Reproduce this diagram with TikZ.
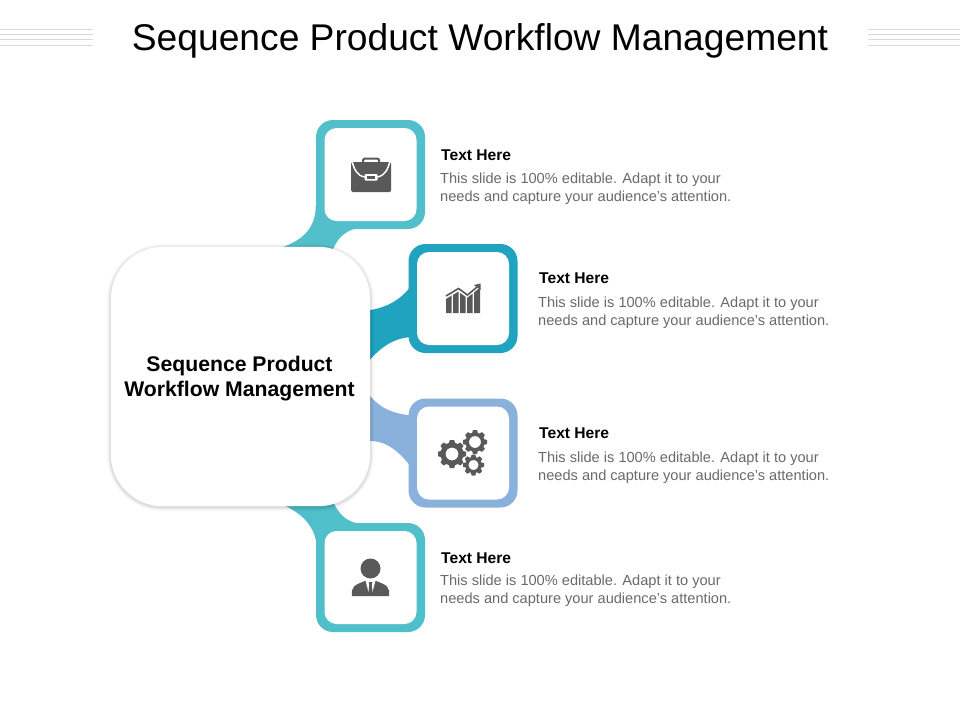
\documentclass[tikz,border=0pt]{standalone}
\usepackage{fontspec}
\setmainfont{Liberation Sans}
\usetikzlibrary{calc}
\definecolor{tealA}{HTML}{53BFCA}
\definecolor{tealB}{HTML}{1FA3BE}
\definecolor{blueC}{HTML}{8AB1DB}
\definecolor{tealD}{HTML}{4FBFCA}
\definecolor{icongray}{HTML}{595959}
\definecolor{bodygray}{HTML}{6A6A6A}
\definecolor{rulegray}{HTML}{DADADA}
\tikzset{
  x=1pt,y=-1pt,
  outerbox/.style={rectangle,rounded corners=17pt,minimum width=109pt,minimum height=109pt,inner sep=0pt,fill=#1},
  innerbox/.style={rectangle,rounded corners=12pt,minimum width=92pt,minimum height=93pt,inner sep=0pt,fill=white},
  headtext/.style={anchor=base west,inner sep=0pt,font=\fontsize{15.6}{18}\selectfont\bfseries,text=black},
  bodytext/.style={anchor=north west,inner sep=0pt,align=left,font=\fontsize{14.6}{18}\selectfont,text=bodygray},
  rule/.style={draw=rulegray,line width=1pt},
}
\newcommand{\gearicon}[5]{% x y outer inner toothhalfwidth
  \begin{scope}[shift={(#1,#2)}]
    \draw[icongray,line width={(#3)-2.5-(#4)}] (0,0) circle[radius={((#3)-2.5+(#4))/2}];
    \foreach \a in {0,45,...,315}{
      \fill[icongray,rotate=\a] (-#5,-#3) -- (#5,-#3) -- ({#5+1},{-(#3)+3.5}) -- ({-#5-1},{-(#3)+3.5}) -- cycle;
    }
  \end{scope}
}
\begin{document}
\begin{tikzpicture}
\useasboundingbox (0,0) rectangle (960,720);
\fill[white] (0,0) rectangle (960,720);

% header rules
\coordinate (la) at (0,29); \coordinate (lb) at (93,29);
\coordinate (ra) at (868,29); \coordinate (rb) at (960,29);
\foreach \d in {0,5,10,16}{
  \draw[rule] ($(la)+(0,\d)$) -- ($(lb)+(0,\d)$);
  \draw[rule] ($(ra)+(0,\d)$) -- ($(rb)+(0,\d)$);
}
\node[inner sep=0pt,font=\fontsize{37.2}{40}\selectfont,text=black] (title) at (480,41) {Sequence Product Workflow Management};

% boxes
\node[outerbox=tealA] (box1) at (370.5,174.5) {};
\node[outerbox=tealB] (box2) at (463,298.5) {};
\node[outerbox=blueC] (box3) at (463,453) {};
\node[outerbox=tealD] (box4) at (370.5,577.5) {};

% centre node placed first as a coordinate frame
\node[rectangle,minimum width=259pt,minimum height=259pt,inner sep=0pt] (centre) at (240.5,376.5) {};

% connectors
\fill[tealA] ($(box1.south west)+(0,-24)$) .. controls ($(box1.south west)+(0,3)$) and ($(centre.north west)+(187,-4)$) .. ($(centre.north west)+(164,3)$)
  -- ($(centre.north west)+(222,3)$) .. controls ($(centre.north west)+(227,-9)$) and ($(box1.south west)+(29,2)$) .. ($(box1.south west)+(41,-1)$) -- cycle;
\fill[tealB] ($(box2.north west)+(2,43)$) .. controls ($(box2.north west)+(-6,54)$) and ($(centre.north east)+(18,61)$) .. ($(centre.north east)+(-2,63.5)$)
  -- ($(centre.north east)+(-2,115)$) .. controls ($(centre.north east)+(9,102)$) and ($(box2.south west)+(-16,-15)$) .. ($(box2.south west)+(2,-16)$) -- cycle;
\fill[blueC] ($(box3.north west)+(2,17)$) .. controls ($(box3.north west)+(-17,15)$) and ($(centre.north east)+(8,161)$) .. ($(centre.north east)+(-4,144)$)
  -- ($(centre.north east)+(-2,194)$) .. controls ($(centre.north east)+(18,194)$) and ($(box3.south west)+(-9,-55)$) .. ($(box3.south west)+(2,-42)$) -- cycle;
\fill[tealD] ($(centre.south west)+(169,-3)$) .. controls ($(centre.south west)+(187,5)$) and ($(box4.north west)+(-4,-1)$) .. ($(box4.north west)+(0,17)$)
  -- ($(box4.north west)+(44,1)$) .. controls ($(box4.north west)+(31,-1)$) and ($(centre.south west)+(229,9)$) .. ($(centre.south west)+(223,-3)$) -- cycle;

% inner panels
\node[innerbox] (inner1) at (box1.center) {};
\node[innerbox] (inner2) at (box2.center) {};
\node[innerbox] (inner3) at (box3.center) {};
\node[innerbox] (inner4) at (box4.center) {};

% centre panel with soft shadow
\foreach \w/\o in {8/0.014,6.5/0.02,5/0.026,3.5/0.032,2/0.04}{
  \draw[black,opacity=\o,line width=\w pt,rounded corners=52pt] ($(centre.south west)+(0,1)$) rectangle ($(centre.north east)+(0,1)$);
}
\fill[white,rounded corners=52pt] (centre.south west) rectangle (centre.north east);
\node[inner sep=0pt,align=center,font=\fontsize{21.2}{25}\selectfont\bfseries,text=black] (centrelabel) at ($(centre.center)+(-1,2)$) {Sequence Product\\Workflow Management};

% text blocks
\node[headtext] (h1) at (441,160.5) {Text Here};
\node[bodytext] (b1) at (440,173) {This slide is 100\% editable. Adapt it to your\\needs and capture your audience's attention.};
\node[headtext] (h2) at (539,283.5) {Text Here};
\node[bodytext] (b2) at (538,297) {This slide is 100\% editable. Adapt it to your\\needs and capture your audience's attention.};
\node[headtext] (h3) at (539,438.5) {Text Here};
\node[bodytext] (b3) at (538,452) {This slide is 100\% editable. Adapt it to your\\needs and capture your audience's attention.};
\node[headtext] (h4) at (441,563.5) {Text Here};
\node[bodytext] (b4) at (440,575) {This slide is 100\% editable. Adapt it to your\\needs and capture your audience's attention.};

% briefcase
\fill[icongray,rounded corners=1.5pt] (351,162) -- (391,162) -- (391,192) -- (351,192) -- cycle;
\draw[icongray,line width=2pt,rounded corners=2pt] (363,162) -- (363,158.5) -- (379,158.5) -- (379,162);
\draw[white,line width=1.5pt] (352,161) .. controls (354,169) and (357,176) .. (365,177) -- (377,177) .. controls (385,176) and (388,169) .. (390,161);
\fill[white,rounded corners=1pt] (364.5,174) rectangle (377.5,180.5);
\fill[icongray] (367,175.8) rectangle (375,178.7);

% chart
\fill[icongray] (446,299) -- (451.7,295.6) -- (451.7,313) -- (446,313) -- cycle;
\fill[icongray] (453,294.8) -- (458.7,291.5) -- (458.7,313) -- (453,313) -- cycle;
\fill[icongray] (460,292.8) -- (465.7,297) -- (465.7,313) -- (460,313) -- cycle;
\fill[icongray] (467,298) -- (472.7,293.5) -- (472.7,313) -- (467,313) -- cycle;
\fill[icongray] (474,292.5) -- (480,287.5) -- (480,313) -- (474,313) -- cycle;
\draw[icongray,line width=1.6pt] (446,296) -- (458.5,288.5) -- (467.5,295) -- (477,287);
\fill[icongray] (480.5,283.5) -- (480.5,290) -- (474,285) -- cycle;

% gears
\gearicon{452}{454}{14}{6.5}{2.2}
\gearicon{475}{442}{12}{6}{2}
\gearicon{473.5}{465}{10.5}{5}{1.8}

% person
\fill[icongray] (370.5,568.5) circle[radius=10];
\fill[icongray] (352,596) .. controls (351,587) and (354,585) .. (365,581) -- (376,581) .. controls (387,585) and (390,587) .. (389,596) -- cycle;
\fill[white] (365.5,580.5) -- (375.5,580.5) -- (372.5,592) -- (368.5,592) -- cycle;
\fill[icongray] (368.7,582) -- (372.3,582) -- (371.7,585) -- (372.7,593) -- (370.5,595) -- (368.3,593) -- (369.3,585) -- cycle;
\end{tikzpicture}
\end{document}
